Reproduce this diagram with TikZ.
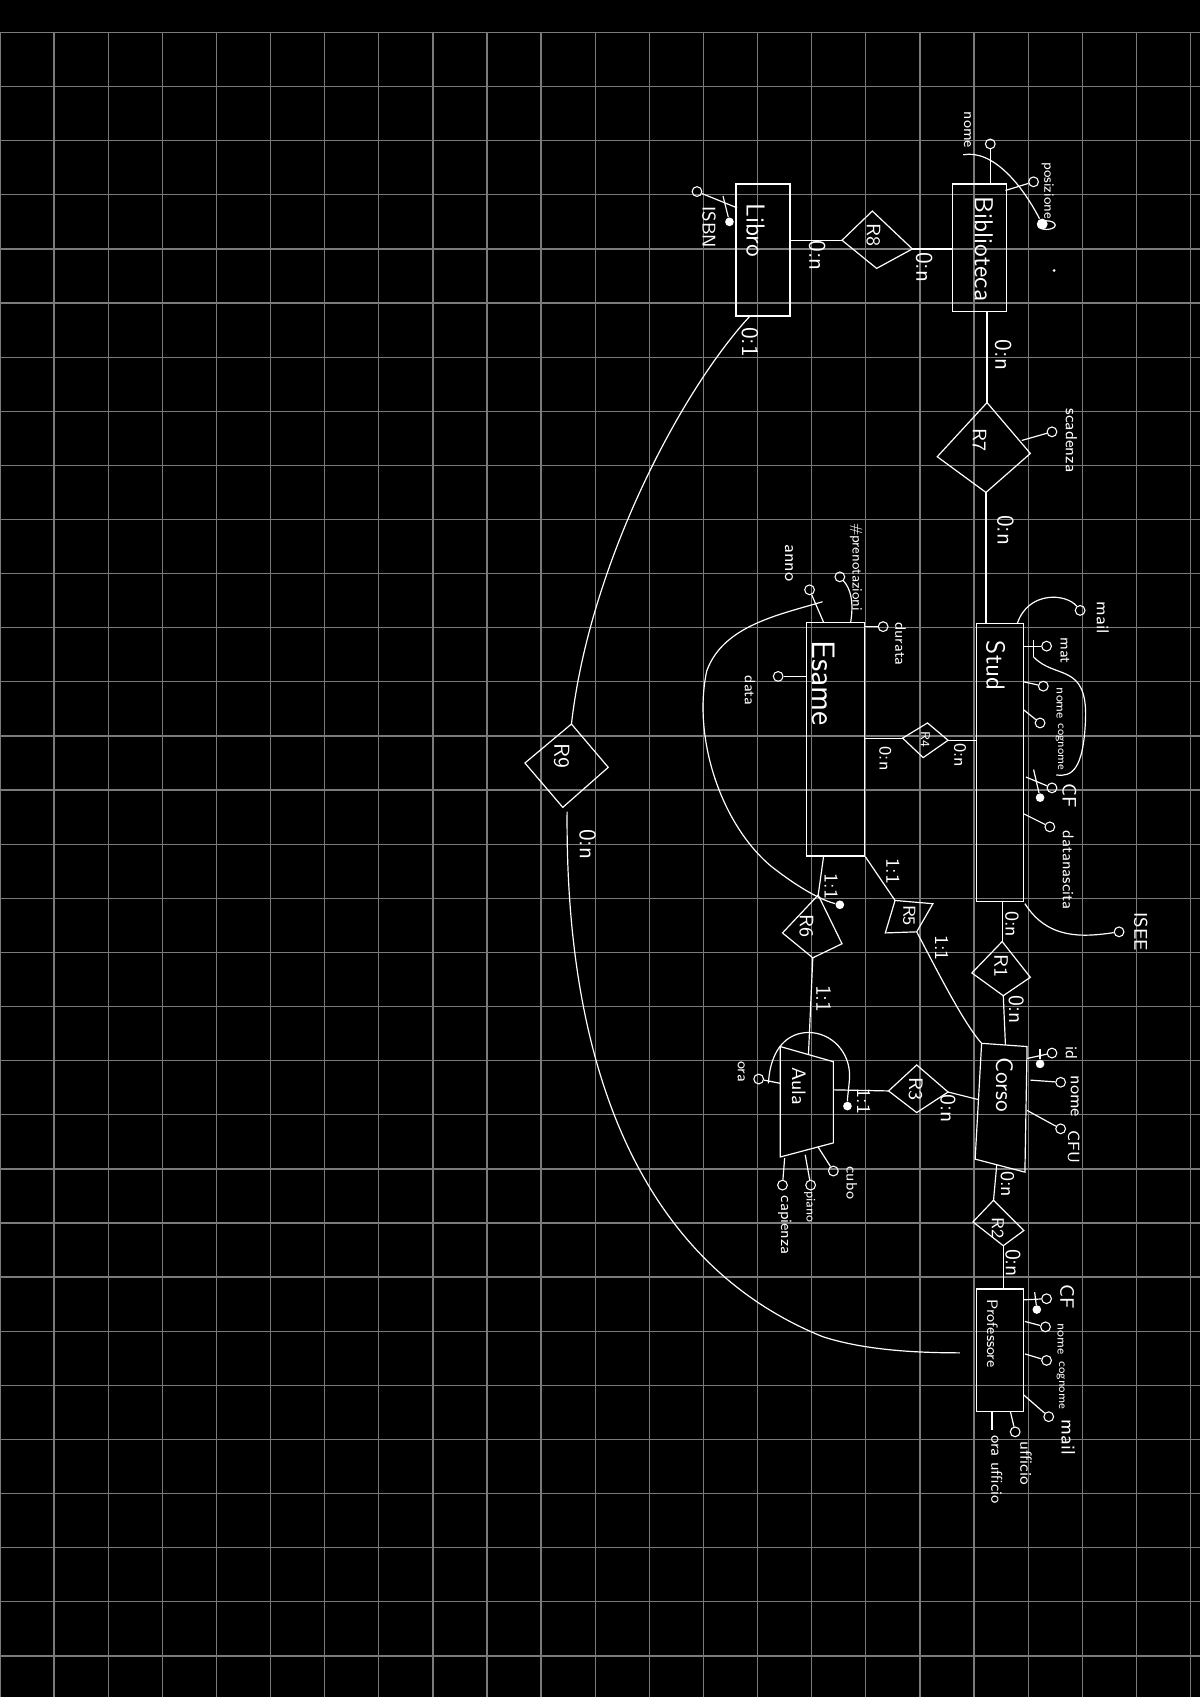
\documentclass[tikz,border=0pt]{standalone}
\usetikzlibrary{calc}
\begin{document}
\begin{tikzpicture}[x=0.5pt,y=-0.5pt,
 ln/.style={draw=white, line width=0.55pt},
 gridln/.style={draw=white!48!black, line width=0.6pt},
 ent/.style={draw=white, line width=0.6pt, inner sep=0pt, rectangle},
 fs/.style={font=\sffamily\fontsize{#1}{#1}\selectfont},
 lbl/.style={text=white, rotate=-90, inner sep=0pt, fs=7},
 card/.style={lbl, fs=11},
 attr/.style={circle, draw=white, line width=0.5pt, inner sep=0pt, minimum size=4.5pt},
 idf/.style={circle, fill=white, inner sep=0pt, minimum size=4pt}]
\useasboundingbox (0,0) rectangle (1109,1568);
\fill[black] (0,0) rectangle (1109,1568);
% grid
\foreach \i in {0,...,22} \draw[gridln] (\i*50,30) -- (\i*50,1568);
\foreach \j in {0,...,30} \draw[gridln] (0,30+\j*50) -- (1109,30+\j*50);

% ---------- entities ----------
\node[ent, minimum width=25pt, minimum height=59pt] (bib) at (905,229) {};
\node[lbl, fs=12] at (909,230) {Biblioteca};
\node[ent, minimum width=25pt, minimum height=61pt] (libro) at (705,231) {};
\node[lbl, fs=12] at (698,213) {Libro};
\node[ent, minimum width=22pt, minimum height=128.5pt] (stud) at (924,704.5) {};
\node[lbl, fs=12] at (920,615) {Stud};
\node[ent, minimum width=27pt, minimum height=108pt] (esame) at (772,683) {};
\node[lbl, fs=15] at (761,631) {Esame};
\node[ent, minimum width=22pt, minimum height=56.5pt] (prof) at (924,1247.5) {};
\node[lbl, fs=7] at (917,1232) {Professore};
% Corso
\coordinate (c1) at (907,964); \coordinate (c2) at (949,967);
\coordinate (c3) at (947,1083); \coordinate (c4) at (901,1071);
\draw[ln] (c1) -- (c2) -- (c3) -- (c4) -- cycle;
\node[lbl, fs=11] (corso) at (928,1002) {Corso};
\coordinate (corsoN) at (929,965.5); \coordinate (corsoS) at (921,1076);
\coordinate (corsoW) at (904,1016);
% Aula
\coordinate (a1) at (721,967); \coordinate (a2) at (770,981);
\coordinate (a3) at (770,1056); \coordinate (a4) at (721,1069);
\draw[ln] (a1) -- (a2) -- (a3) -- (a4) -- cycle;
\node[lbl, fs=9] (aula) at (738,1004) {Aula};
\coordinate (aulaN) at (747,974.4); \coordinate (aulaE) at (770,1007);

% ---------- relationships ----------
\coordinate (r8t) at (806,195); \coordinate (r8r) at (843,230);
\coordinate (r8b) at (810,248); \coordinate (r8l) at (778,222);
\draw[ln] (r8t) -- (r8r) -- (r8b) -- (r8l) -- cycle;
\node[lbl, fs=9] (r8) at (807,217) {R8};

\coordinate (r7t) at (912,372); \coordinate (r7r) at (952,419);
\coordinate (r7b) at (911,455); \coordinate (r7l) at (866,422);
\draw[ln] (r7t) -- (r7r) -- (r7b) -- (r7l) -- cycle;
\node[lbl, fs=9] (r7) at (905,407) {R7};

\coordinate (r4t) at (857,668); \coordinate (r4r) at (876,684);
\coordinate (r4b) at (853,700); \coordinate (r4l) at (834,682);
\draw[ln] (r4t) -- (r4r) -- (r4b) -- (r4l) -- cycle;
\node[lbl, fs=6] (r4) at (855,683) {R4};

\coordinate (r5a) at (827,832); \coordinate (r5b) at (862,835);
\coordinate (r5c) at (847,861); \coordinate (r5d) at (818,862);
\draw[ln] (r5a) -- (r5b) -- (r5c) -- (r5d) -- cycle;
\node[lbl, fs=8] (r5) at (840,846) {R5};

\coordinate (r6t) at (756,827); \coordinate (r6r) at (778,872);
\coordinate (r6b) at (751,885); \coordinate (r6l) at (723,862);
\draw[ln] (r6t) -- (r6r) -- (r6b) -- (r6l) -- cycle;
\node[lbl, fs=9] (r6) at (745,856) {R6};

\coordinate (r3t) at (847,984); \coordinate (r3r) at (876,1009);
\coordinate (r3b) at (847,1028); \coordinate (r3l) at (821,1008);
\draw[ln] (r3t) -- (r3r) -- (r3b) -- (r3l) -- cycle;
\node[lbl, fs=9] (r3) at (846,1006) {R3};

\coordinate (r1t) at (926,870); \coordinate (r1r) at (952,903);
\coordinate (r1b) at (927,920); \coordinate (r1l) at (898,899);
\draw[ln] (r1t) -- (r1r) -- (r1b) -- (r1l) -- cycle;
\node[lbl, fs=9] (r1) at (925,893) {R1};

\coordinate (r2t) at (918,1109); \coordinate (r2r) at (946,1137);
\coordinate (r2b) at (927,1151); \coordinate (r2l) at (899,1129);
\draw[ln] (r2t) -- (r2r) -- (r2b) -- (r2l) -- cycle;
\node[lbl, fs=8] (r2) at (922,1135) {R2};

\coordinate (r9t) at (528,669); \coordinate (r9r) at (562,709);
\coordinate (r9b) at (520,746); \coordinate (r9l) at (485,705);
\draw[ln] (r9t) -- (r9r) -- (r9b) -- (r9l) -- cycle;
\node[lbl, fs=10] (r9) at (519,698) {R9};

% ---------- connectors ----------
\draw[ln] (r8l) -- (r8l -| libro.east);
\draw[ln] (r8r) -- (r8r -| bib.west);
\draw[ln] (r7t |- bib.south) -- (r7t);
\draw[ln] (r7b) -- (r7b |- stud.north);
\draw[ln] (r4r) -- (r4r -| stud.west);
\draw[ln] (r4l) -- (r4l -| esame.east);
\draw[ln] (r1t |- stud.south) -- (r1t);
\draw[ln] (r1b) -- (corsoN);
\draw[ln] (corsoS) -- (r2t);
\draw[ln] (r2b) -- (r2b |- prof.north);
\draw[ln] (r3r) -- (corsoW);
\draw[ln] (aulaE) -- (r3l);
\draw[ln] (r6b) -- (aulaN);
\coordinate (esS) at (761,791);
\draw[ln] (esS) -- (r6t);
\draw[ln] (esame.south east) -- (r5a);
\draw[ln] (r5c) .. controls (865,895) and (890,945) .. (c1);
\coordinate (libS) at (693,292);
\draw[ln] (libS) .. controls (630,360) and (545,520) .. (r9t);
\coordinate (r9bb) at (524,750);
\coordinate (profW) at (887,1250);
\draw[ln] (r9bb) .. controls (522,1000) and (600,1170) .. (760,1235) .. controls (800,1248) and (850,1250) .. (profW);

% ---------- cardinalities ----------
\node[card] at (854,247) {0:n};
\node[card] at (755,236) {0:n};
\node[card] at (693,316) {0:1};
\node[card] at (927,328) {0:n};
\node[card] at (929,490) {0:n};
\node[card, fs=8] at (887,698) {0:n};
\node[card, fs=8] at (818,701) {0:n};
\node[card, fs=9] at (768,819) {1:1};
\node[card, fs=9] at (825,805) {1:1};
\node[card, fs=9] at (870,876) {1:1};
\node[card, fs=10] at (761,923) {1:1};
\node[card, fs=9] at (798,1018) {1:1};
\node[card, fs=10] at (876,1024) {0:n};
\node[card, fs=9] at (935,854) {0:n};
\node[card, fs=10] at (939,933) {0:n};
\node[card, fs=9] at (931,1094) {0:n};
\node[card, fs=10] at (936,1167) {0:n};
\node[card] at (543,780) {0:n};

% ---------- Biblioteca attributes ----------
\node[attr] (bnome) at (915,133) {};
\draw[ln] (bnome) -- (bnome |- bib.north);
\node[lbl, fs=7] at (894,120) {nome};
\node[attr] (bpos) at (955,168) {};
\coordinate (bposS) at (929,176);
\draw[ln] (bposS) -- (bpos);
\node[lbl, fs=6.5] at (968,176) {posizione};
\coordinate (bcs) at (890,143);
\node[idf, minimum size=5pt] (bid) at (963,207) {};
\draw[ln] (bcs) .. controls (918,138) and (945,172) .. (bid);
\draw[ln] (967,208) ellipse [x radius=4pt, y radius=2pt];
\fill[white] (974,250) circle (0.7pt);

% ---------- Libro attributes ----------
\node[attr] (isbn) at (644,177) {};
\coordinate (libW1) at (681,192);
\draw[ln] (libW1) -- (isbn);
\coordinate (isbnt) at (668,181);
\node[idf] (isbnid) at (674,205) {};
\draw[ln] (isbnt) -- (isbnid);
\node[lbl, fs=8.5] at (655,210) {ISBN};

% ---------- R7 attribute ----------
\node[attr] (scad) at (972,399) {};
\coordinate (r7s) at (944,407);
\draw[ln] (r7s) -- (scad);
\node[lbl, fs=7.5] at (990,407) {scadenza};

% ---------- Stud attributes ----------
\node[attr] (smail) at (998,564) {};
\coordinate (smailS) at (940,576);
\draw[ln] (smailS) .. controls (950,546) and (985,548) .. (smail);
\node[lbl, fs=8] at (1019,571) {mail};
\node[attr] (smat) at (967,597) {};
\draw[ln] (smat) -- (smat -| stud.east);
\coordinate (smt1) at (955,591); \coordinate (smt2) at (955,607);
\draw[ln] (smt1) -- (smt2);
\draw[ln] (smt2) .. controls (975,628) and (1005,612) .. (1003,665) .. controls (1001,712) and (990,718) .. (976,716);
\node[lbl, fs=7] at (984,601) {mat};
\node[attr] (snome) at (964,634) {};
\coordinate (snS) at (946,630);
\draw[ln] (snS) -- (snome);
\node[lbl, fs=6] at (979,650) {nome};
\node[attr] (scog) at (961,668) {};
\coordinate (scS) at (946,656);
\draw[ln] (scS) -- (scog);
\node[lbl, fs=5.5] at (979,690) {cognome};
\node[attr] (scf) at (972,728) {};
\coordinate (scfS) at (948,718);
\draw[ln] (scfS) -- (scf);
\coordinate (scft) at (955,711);
\node[idf] (scfid) at (961,737) {};
\draw[ln] (scft) -- (scfid);
\node[lbl, fs=9] at (988,735) {CF};
\node[attr] (sdn) at (970,764) {};
\coordinate (sdnS) at (946,752);
\draw[ln] (sdnS) -- (sdn);
\node[lbl, fs=7.2] at (987,804) {datanascita};
\node[attr] (sisee) at (1034,861) {};
\coordinate (siS) at (947,835);
\draw[ln] (siS) .. controls (968,868) and (1000,866) .. (sisee);
\node[lbl, fs=8.5] at (1054,861) {ISEE};

% ---------- Esame attributes ----------
\node[attr] (edur) at (816,579) {};
\draw[ln] (edur) -- (edur -| esame.east);
\node[lbl, fs=7] at (832,595) {durata};
\node[attr] (edata) at (719,625) {};
\draw[ln] (edata) -- (edata -| esame.west);
\node[lbl, fs=7] at (693,638) {data};
\node[attr] (epren) at (776,533) {};
\coordinate (epS) at (786,575);
\draw[ln] (epS) .. controls (789,556) and (786,544) .. (epren);
\node[lbl, fs=6.5] at (791,524) {\#prenotazioni};
\node[attr] (eanno) at (748,545) {};
\coordinate (eaS) at (761,575);
\draw[ln] (eaS) -- (eanno);
\node[lbl, fs=8] at (729,520) {anno};
\coordinate (ecs) at (760,556);
\node[idf] (r6id) at (776,836) {};
\draw[ln] (ecs) .. controls (720,568) and (668,578) .. (653,620) .. controls (640,680) and (665,760) .. (712,800) .. controls (740,822) and (760,832) .. (r6id);

% ---------- Corso attributes ----------
\node[attr] (cid) at (972,973) {};
\coordinate (cidS) at (949,978);
\draw[ln] (cidS) -- (cid);
\coordinate (cidt) at (961,969);
\node[idf] (cidid) at (961,983) {};
\draw[ln] (cidt) -- (cidid);
\node[lbl, fs=7.5] at (990,973) {id};
\node[attr] (cnome) at (980,1000) {};
\coordinate (cnS) at (952,998);
\draw[ln] (cnS) -- (cnome);
\node[lbl, fs=8] at (993,1013) {nome};
\node[attr] (ccfu) at (980,1043) {};
\coordinate (ccS) at (949,1026);
\draw[ln] (ccS) -- (ccfu);
\node[lbl, fs=7.5] at (992,1060) {CFU};

% ---------- Professore attributes ----------
\node[attr] (pcf) at (967,1200) {};
\coordinate (pcfS) at (946,1201);
\draw[ln] (pcfS) -- (pcf);
\coordinate (pcft) at (956,1194);
\node[idf] (pcfid) at (958,1210) {};
\draw[ln] (pcft) -- (pcfid);
\node[lbl, fs=9] at (986,1198) {CF};
\node[attr] (pnome) at (966,1226) {};
\coordinate (pnS) at (947,1221);
\draw[ln] (pnS) -- (pnome);
\node[lbl, fs=6] at (980,1237) {nome};
\node[attr] (pcog) at (967,1257) {};
\coordinate (pcS) at (947,1251);
\draw[ln] (pcS) -- (pcog);
\node[lbl, fs=5.6] at (980,1280) {cognome};
\node[attr] (pmail) at (969,1309) {};
\coordinate (pmS) at (946,1289);
\draw[ln] (pmS) -- (pmail);
\node[lbl, fs=9] at (987,1328) {mail};
\node[attr] (puff) at (938,1323) {};
\coordinate (puS) at (933.5,1304);
\draw[ln] (puS) -- (puff);
\node[lbl, fs=7.5] at (948,1352) {ufficio};
\coordinate (poS) at (916.5,1304);
\coordinate (poE) at (916.5,1321);
\draw[ln] (poS) -- (poE);
\node[lbl, fs=7.2] at (921,1358) {ora ufficio};

% ---------- Aula attributes ----------
\node[attr] (aora) at (701,997) {};
\coordinate (aoS) at (721,1001);
\draw[ln] (aoS) -- (aora);
\node[lbl, fs=7] at (685,990) {ora};
\coordinate (aoc) at (710,1001);
\node[idf] (aid) at (783,1022) {};
\draw[ln] (aoc) .. controls (712,966) and (730,954) .. (747,954) .. controls (768,954) and (786,972) .. (785,996) .. controls (784,1008) and (783,1014) .. (aid);
\node[attr] (acubo) at (770,1082) {};
\coordinate (acS) at (756,1060);
\draw[ln] (acS) -- (acubo);
\node[lbl, fs=7] at (787,1093) {cubo};
\node[attr] (apiano) at (749,1095) {};
\coordinate (apS) at (744,1067);
\draw[ln] (apS) -- (apiano);
\node[lbl, fs=6] at (748,1115) {piano};
\node[attr] (acap) at (723,1095) {};
\coordinate (acpS) at (725,1070);
\draw[ln] (acpS) -- (acap);
\node[lbl, fs=7.2] at (725,1132) {capienza};
\end{tikzpicture}
\end{document}
